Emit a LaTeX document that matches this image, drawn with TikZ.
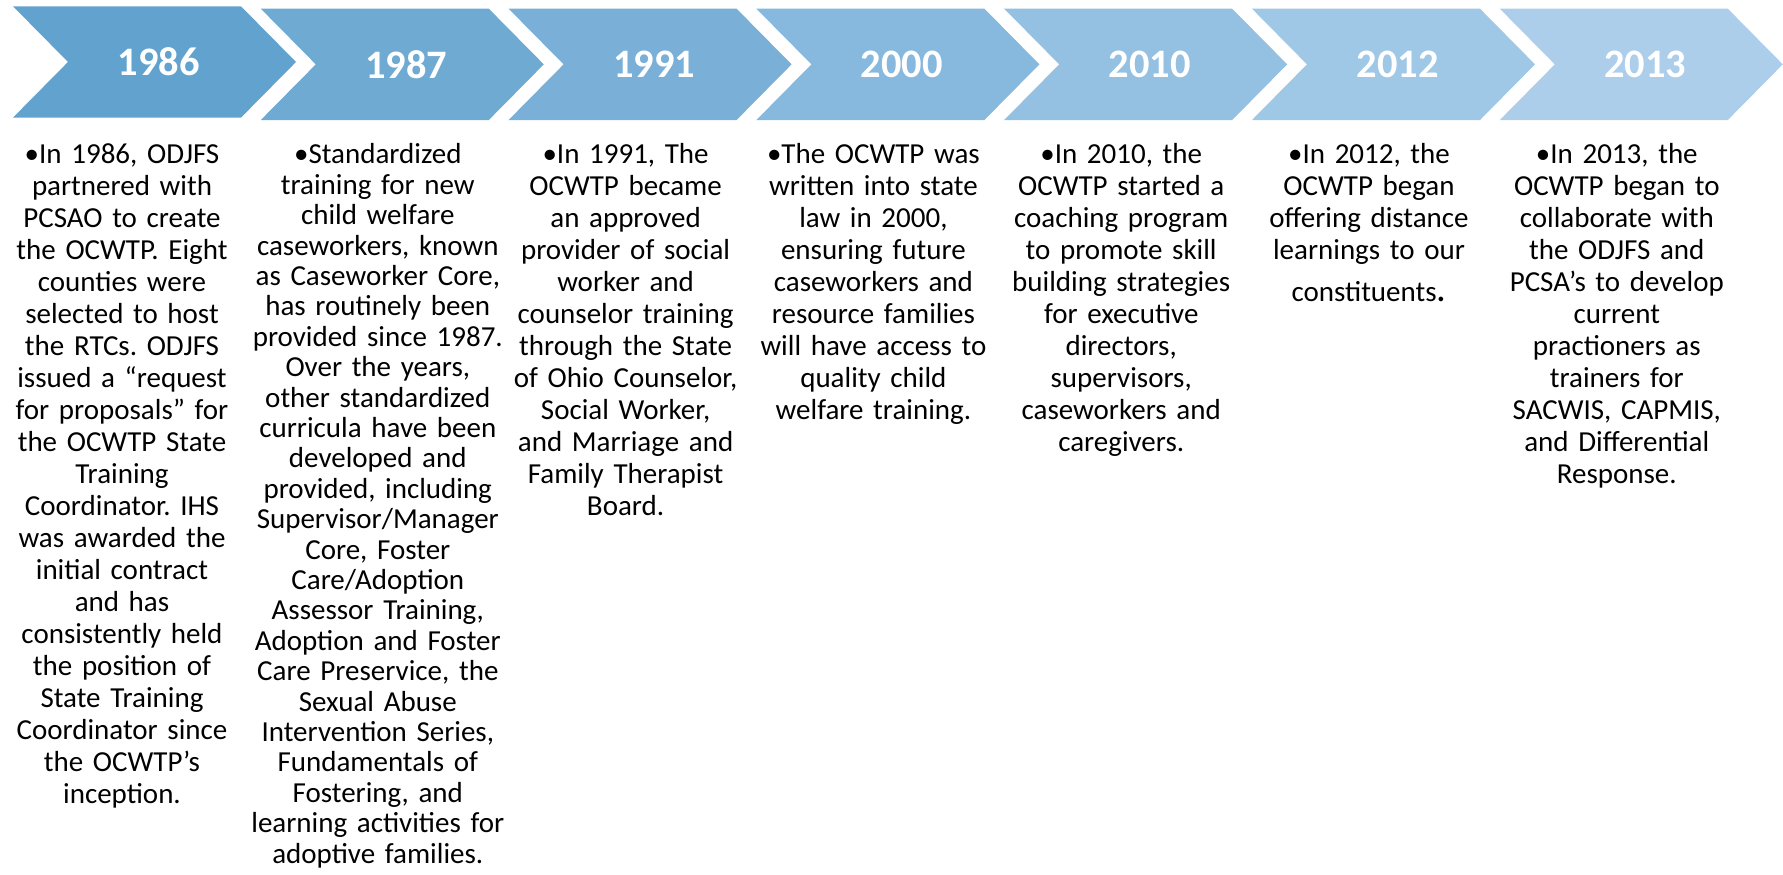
\documentclass[tikz,border=0pt]{standalone}
\usepackage{fontspec}
\setmainfont{Carlito}
\usepackage{xcolor}
\definecolor{azulEscuro}{RGB}{98, 162, 206}
\definecolor{azulClaro}{RGB}{172, 206, 235}
\frenchspacing
\tikzset{
  marcoAno/.style={
    font=\fontsize{11.5}{12}\selectfont\bfseries, text=white, inner sep=0pt
  },
}

\begin{document}
\begin{tikzpicture}[
    descricao/.style={
        anchor=north,
        align=center,
        inner sep=0pt,
        text width=2.7cm,
        font=\fontsize{8.25}{9.1}\selectfont,
        text=black
    }
]
\useasboundingbox (0,0) rectangle (17.83,-8.74);

% Setas da linha do tempo
\foreach \ano [count=\n] in {1986,1987,1991,2000,2010,2012,2013} {
  \pgfmathsetmacro{\x}{0.13+2.478*(\n-1)}
  \pgfmathsetmacro{\y}{\n==1 ? -0.063 : -0.087}
  \pgfmathtruncatemacro{\mist}{round((\n-1)*100/6)}
  \fill[azulClaro!\mist!azulEscuro] (\x,\y) -- ++(2.28,0) -- ++(0.55,-0.5565)
    -- ++(-0.55,-0.5565) -- ++(-2.28,0) -- ++(0.55,0.5565) -- cycle;
  \node[marcoAno] (ano\ano) at (\x+1.455,\y-0.5565) {\ano};
}

% Textos de cada ano
\node[descricao] (txt1986) at (1.22,-1.43)
{
•In 1986, ODJFS\\
partnered with\\
PCSAO to create\\
the OCWTP. Eight\\
counties were\\
selected to host\\
the RTCs. ODJFS\\
issued a “request\\
for proposals” for\\
the OCWTP State\\
Training\\
Coordinator. IHS\\
was awarded the\\
initial contract\\
and has\\
consistently held\\
the position of\\
State Training\\
Coordinator since\\
the OCWTP’s\\
inception.
};

\node[descricao, font=\fontsize{8.25}{8.65}\selectfont] (txt1987) at (3.778,-1.43)
{
•Standardized\\
training for new\\
child welfare\\
caseworkers, known\\
as Caseworker Core,\\
has routinely been\\
provided since 1987.\\
Over the years,\\
other standardized\\
curricula have been\\
developed and\\
provided, including\\
Supervisor/Manager\\
Core, Foster\\
Care/Adoption\\
Assessor Training,\\
Adoption and Foster\\
Care Preservice, the\\
Sexual Abuse\\
Intervention Series,\\
Fundamentals of\\
Fostering, and\\
learning activities for\\
adoptive families.
};

\node[descricao] (txt1991) at (6.256,-1.43)
{
•In 1991, The\\
OCWTP became\\
an approved\\
provider of social\\
worker and\\
counselor training\\
through the State\\
of Ohio Counselor,\\
Social Worker,\\
and Marriage and\\
Family Therapist\\
Board.
};

\node[descricao] (txt2000) at (8.734,-1.43)
{
•The OCWTP was\\
written into state\\
law in 2000,\\
ensuring future\\
caseworkers and\\
resource families\\
will have access to\\
quality child\\
welfare training.
};

\node[descricao] (txt2010) at (11.212,-1.43)
{
•In 2010, the\\
OCWTP started a\\
coaching program\\
to promote skill\\
building strategies\\
for executive\\
directors,\\
supervisors,\\
caseworkers and\\
caregivers.
};

\node[descricao] (txt2012) at (13.69,-1.43)
{
•In 2012, the\\
OCWTP began\\
offering distance\\
learnings to our\\[0.1cm]
constituents{\fontsize{11}{11}\selectfont.}
};

\node[descricao] (txt2013) at (16.168,-1.43)
{
•In 2013, the\\
OCWTP began to\\
collaborate with\\
the ODJFS and\\
PCSA’s to develop\\
current\\
practioners as\\
trainers for\\
SACWIS, CAPMIS,\\
and Differential\\
Response.
};

\end{tikzpicture}
\end{document}
